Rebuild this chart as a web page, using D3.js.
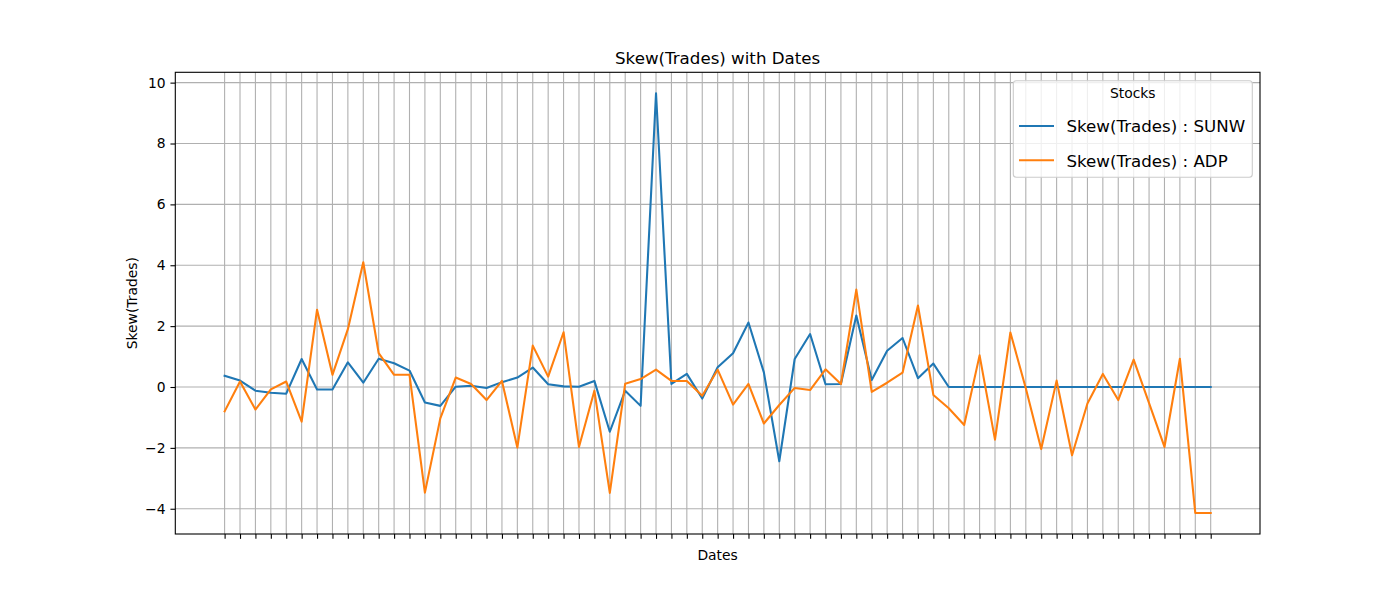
<!DOCTYPE html>
<html>
<head>
<meta charset="utf-8">
<script src="https://cdn.jsdelivr.net/npm/d3@7"></script>
<style>
  html, body { margin: 0; padding: 0; background: #fff; }
  svg { display: block; font-family: "DejaVu Sans", sans-serif; }
</style>
</head>
<body>
<svg id="chart" width="1400" height="600"></svg>
<script>
// ---- data ----
const sunw = [0.37, 0.21, -0.12, -0.19, -0.22, 0.92, -0.08, -0.08, 0.81, 0.14,
  0.93, 0.78, 0.54, -0.51, -0.62, 0.01, 0.04, -0.03, 0.16, 0.31,
  0.64, 0.09, 0.02, 0.01, 0.20, -1.47, -0.12, -0.62, 9.65, 0.10,
  0.43, -0.38, 0.65, 1.11, 2.12, 0.48, -2.44, 0.92, 1.74, 0.09,
  0.10, 2.35, 0.23, 1.19, 1.61, 0.29, 0.77, 0, 0, 0,
  0, 0, 0, 0, 0, 0, 0, 0, 0, 0,
  0, 0, 0, 0, 0];
const adp = [-0.80, 0.18, -0.74, -0.08, 0.18, -1.14, 2.54, 0.40, 1.90, 4.10,
  1.11, 0.40, 0.40, -3.47, -1.03, 0.31, 0.10, -0.43, 0.20, -1.99,
  1.36, 0.34, 1.80, -1.97, -0.12, -3.48, 0.11, 0.26, 0.57, 0.20,
  0.20, -0.29, 0.57, -0.58, 0.10, -1.20, -0.59, -0.03, -0.10, 0.58,
  0.10, 3.20, -0.16, 0.14, 0.47, 2.68, -0.26, -0.70, -1.25, 1.04,
  -1.73, 1.79, -0.04, -2.04, 0.21, -2.24, -0.54, 0.43, -0.43, 0.90,
  -0.53, -1.97, 0.93, -4.14, -4.14];
const dates = sunw.map(() => "");           // date tick labels are blank in the reference
const yTicks = [-4, -2, 0, 2, 4, 6, 8, 10];
const seriesNames = ["Skew(Trades) : SUNW", "Skew(Trades) : ADP"];
const seriesColors = ["#1f77b4", "#ff7f0e"];

// ---- layout ----
const svg = d3.select("#chart");
const L = 175.3, R = 1260, T = 72.3, B = 534;
const n = sunw.length;
const small = "13.89px", big = "16.67px";

const xPad = (n - 1) * 0.05;
const x = d3.scaleLinear().domain([-xPad, n - 1 + xPad]).range([L, R]);
const all = sunw.concat(adp);
const ymin = d3.min(all), ymax = d3.max(all);
const yPad = (ymax - ymin) * 0.05;
const y = d3.scaleLinear().domain([ymin - yPad, ymax + yPad]).range([B, T]);

const grid = svg.append("g");
grid.selectAll("line.vx").data(d3.range(n)).join("line")
  .attr("x1", d => x(d)).attr("x2", d => x(d))
  .attr("y1", T).attr("y2", B)
  .attr("stroke", "#b0b0b0").attr("stroke-width", 1.1);
grid.selectAll("line.hy").data(yTicks).join("line")
  .attr("x1", L).attr("x2", R)
  .attr("y1", d => y(d)).attr("y2", d => y(d))
  .attr("stroke", "#b0b0b0").attr("stroke-width", 1.1);

// lines
const line = d3.line().x((d, i) => x(i)).y(d => y(d));
[sunw, adp].forEach((s, k) => {
  svg.append("path").datum(s)
    .attr("d", line)
    .attr("fill", "none")
    .attr("stroke", seriesColors[k])
    .attr("stroke-width", 2.08)
    .attr("stroke-linejoin", "round")
    .attr("stroke-linecap", "square");
});

// axes
const xAxis = d3.axisBottom(x).tickValues(d3.range(n)).tickFormat(i => dates[i])
  .tickSize(4.86).tickSizeOuter(0);
const gx = svg.append("g").attr("transform", `translate(0,${B})`).call(xAxis);
const yAxis = d3.axisLeft(y).tickValues(yTicks).tickSize(4.86).tickPadding(4.86).tickSizeOuter(0);
const gy = svg.append("g").attr("transform", `translate(${L},0)`).call(yAxis);
[gx, gy].forEach(g => {
  g.select(".domain").remove();
  g.selectAll(".tick line").attr("stroke", "#000").attr("stroke-width", 1.1);
  g.selectAll(".tick text").attr("fill", "#000").style("font-size", small)
    .style("font-family", "DejaVu Sans, sans-serif");
});

// frame
svg.append("rect").attr("x", L).attr("y", T).attr("width", R - L).attr("height", B - T)
  .attr("fill", "none").attr("stroke", "#000").attr("stroke-width", 1.1);

// title & labels
svg.append("text").attr("x", (L + R) / 2).attr("y", 64).attr("text-anchor", "middle")
  .style("font-size", big).text("Skew(Trades) with Dates");
svg.append("text").attr("x", (L + R) / 2).attr("y", 560).attr("text-anchor", "middle")
  .style("font-size", small).text("Dates");
svg.append("text").attr("transform", `translate(137,${(T + B) / 2}) rotate(-90)`)
  .attr("text-anchor", "middle").style("font-size", small).text("Skew(Trades)");

// legend
const lg = svg.append("g");
lg.append("rect").attr("x", 1013.3).attr("y", 80.7).attr("width", 239).attr("height", 96.6)
  .attr("rx", 3).attr("fill", "#fff").attr("fill-opacity", 0.8)
  .attr("stroke", "#cccccc").attr("stroke-width", 1.1);
lg.append("text").attr("x", 1132.8).attr("y", 97.5).attr("text-anchor", "middle")
  .style("font-size", small).text("Stocks");
seriesNames.forEach((name, k) => {
  const yy = 126 + k * 34.3;
  lg.append("line").attr("x1", 1019).attr("x2", 1054).attr("y1", yy).attr("y2", yy)
    .attr("stroke", seriesColors[k]).attr("stroke-width", 2.08);
  lg.append("text").attr("x", 1066.5).attr("y", yy + 6.3)
    .style("font-size", big).text(name);
});
</script>
</body>
</html>
